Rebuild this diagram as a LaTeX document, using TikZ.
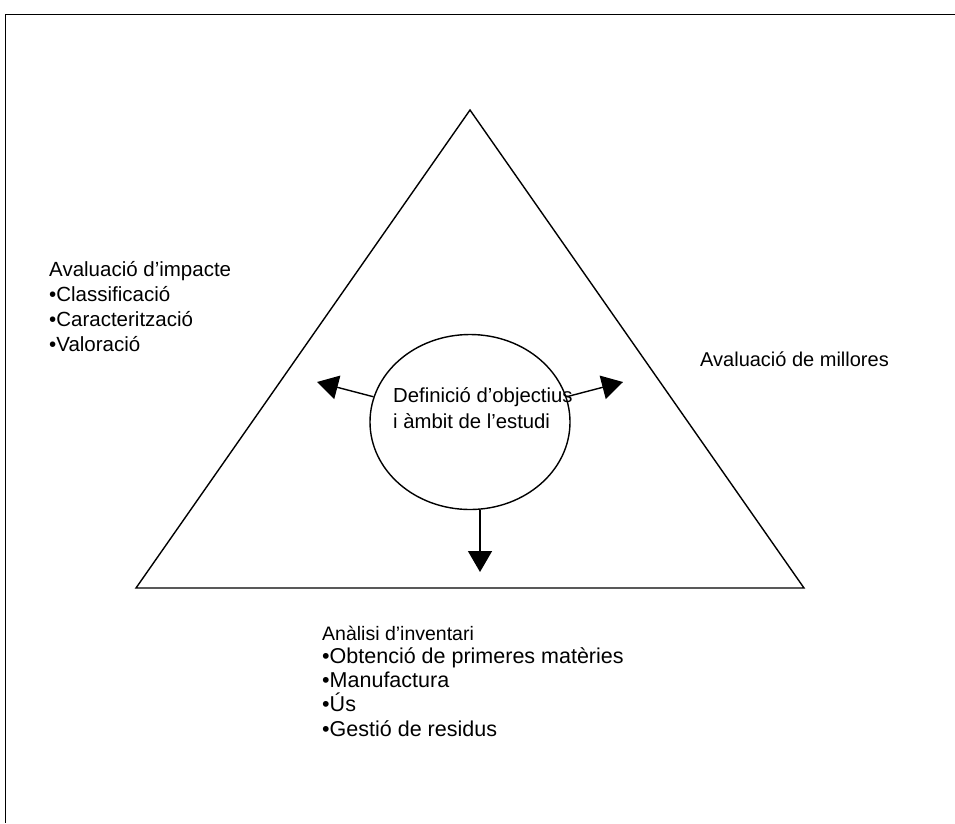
\documentclass[tikz,border=0pt]{standalone}
\usepackage{fontspec}
\setmainfont{Liberation Sans}
\usetikzlibrary{shapes.geometric, arrows.meta}

\begin{document}
\begin{tikzpicture}[
  x=1pt, y=-1pt,
  txt/.style={inner sep=0pt, anchor=base west, align=left, font=\fontsize{20.5}{25}\selectfont},
  goalshape/.style={draw, ellipse, line width=1.4pt, minimum width=200pt, minimum height=175pt, inner sep=0pt},
  arr/.style={-{Triangle[length=21pt, width=24pt]}, line width=1.4pt},
  tri/.style={line width=1.4pt, line join=miter}
]
\useasboundingbox (0,0) rectangle (955,823);
\draw[line width=1.8pt] (5,14.5) -- (955,14.5);
\draw[line width=1pt] (5,14.5) -- (5,823);

\coordinate (apex) at (470,110);
\coordinate (baseL) at (136,588);
\coordinate (baseR) at (804,588);
\draw[tri] (apex) -- (baseR) -- (baseL) -- cycle;

\node[goalshape] (goal) at (470,422) {};
\node[txt, font=\fontsize{20.3}{26}\selectfont] (goaltext) at (393,428) {Definició d’objectius\\i àmbit de l’estudi};

\node[txt] (impact) at (49,351) {Avaluació d’impacte\\•Classificació\\•Caracterització\\•Valoració};
\node[txt, font=\fontsize{20}{25}\selectfont] (improve) at (700,366) {Avaluació de millores};
\node[txt, font=\fontsize{19.5}{24}\selectfont] (invhead) at (322,640) {Anàlisi d’inventari};
\node[txt, font=\fontsize{21.5}{24.3}\selectfont] (inventory) at (322,736) {•Obtenció de primeres matèries\\•Manufactura\\•Ús\\•Gestió de residus};

\coordinate (impacttip) at (317,382);
\coordinate (improvetip) at (623,382);
\coordinate (inventorytip) at (480,572);
\draw[arr] (goal) -- (impacttip);
\draw[arr] (goal) -- (improvetip);
\draw[arr] (goal.south -| inventorytip) -- (inventorytip);
\end{tikzpicture}
\end{document}
